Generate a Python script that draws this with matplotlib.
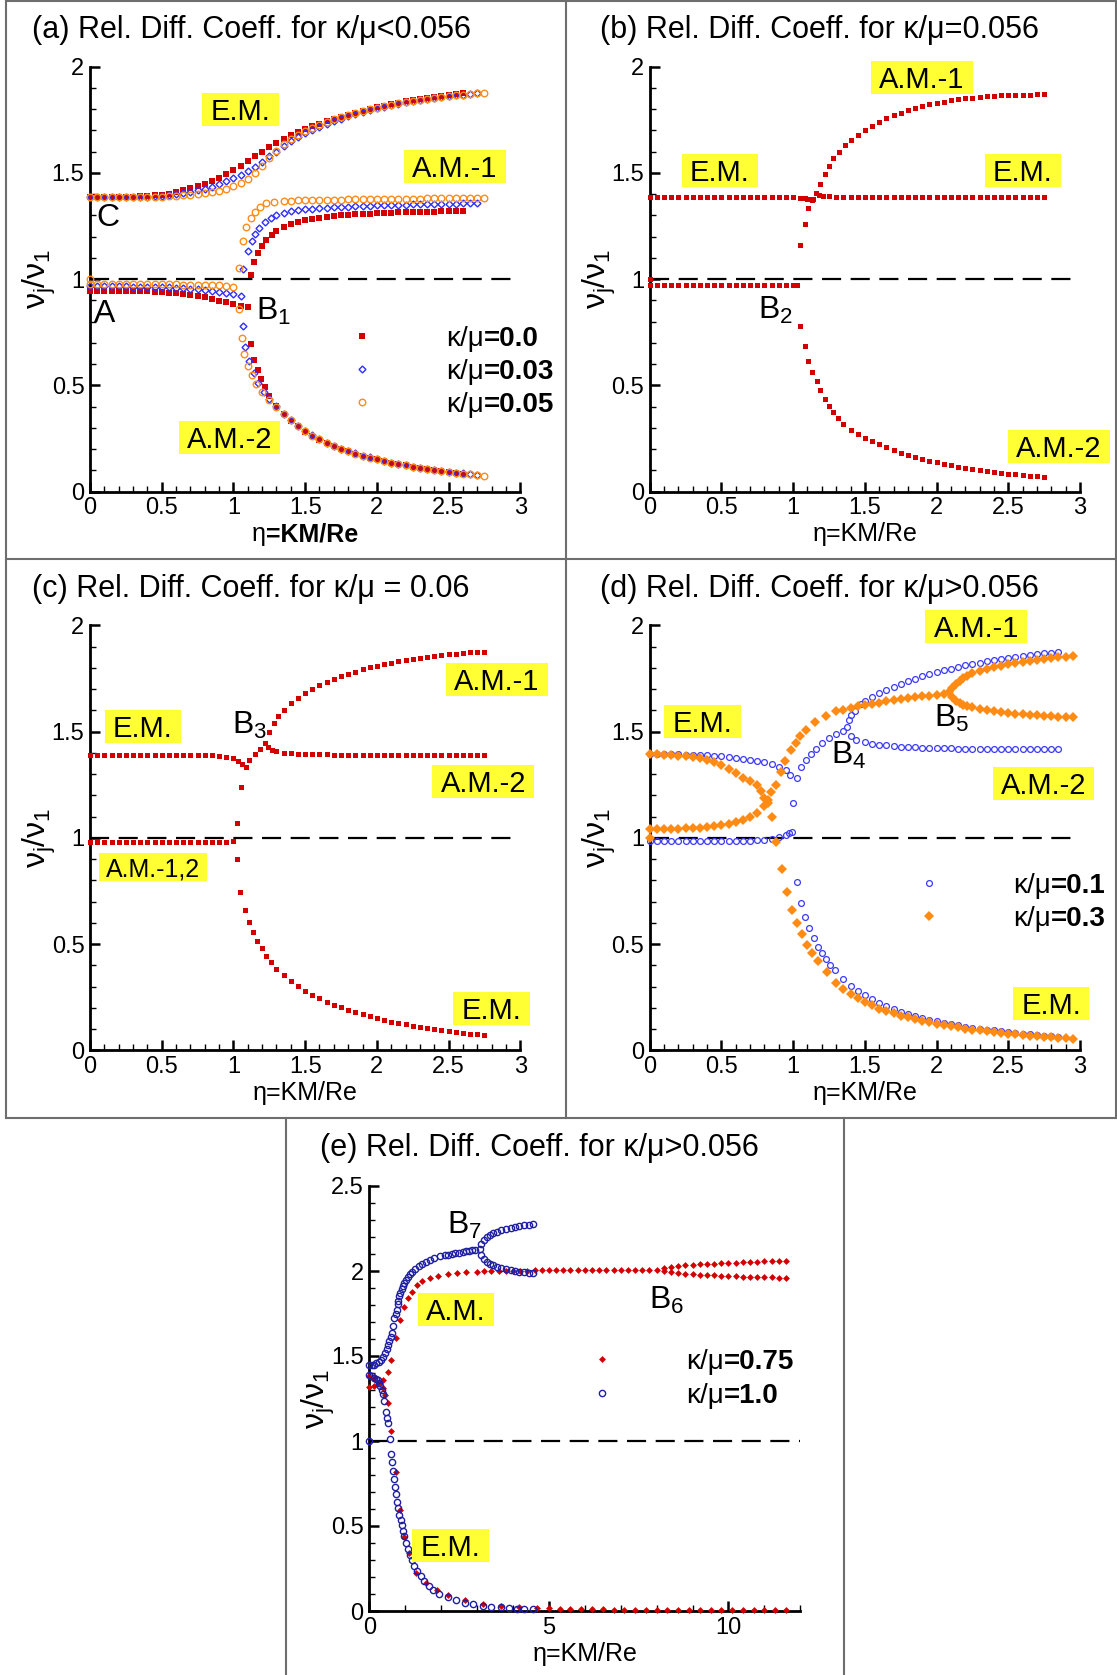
import matplotlib
matplotlib.use("Agg")
import matplotlib.pyplot as plt
from matplotlib.lines import Line2D
from matplotlib.path import Path
from matplotlib.ticker import MultipleLocator, FuncFormatter
from matplotlib.offsetbox import TextArea, HPacker, DrawingArea, AnnotationBbox

plt.rcParams["font.family"] = ["Liberation Sans", "DejaVu Sans"]
plt.rcParams["mathtext.fontset"] = "custom"
plt.rcParams["mathtext.rm"] = "Liberation Sans"
plt.rcParams["mathtext.it"] = "Liberation Sans"
plt.rcParams["mathtext.bf"] = "Liberation Sans:bold"

# ---------------------------------------------------------------------------
# eta = KM/Re sweep used for panels (a)-(d)
GRID = [0.00, 0.05, 0.10, 0.15, 0.20, 0.25, 0.30, 0.35, 0.40, 0.45,
        0.50, 0.55, 0.60, 0.65, 0.70, 0.75, 0.80, 0.85, 0.90, 0.95,
        1.00, 1.05, 1.10, 1.15, 1.20, 1.25, 1.30, 1.35, 1.40, 1.45,
        1.50, 1.55, 1.60, 1.65, 1.70, 1.75, 1.80, 1.85, 1.90, 1.95,
        2.00, 2.05, 2.10, 2.15, 2.20, 2.25, 2.30, 2.35, 2.40, 2.45,
        2.50, 2.55, 2.60, 2.65, 2.70, 2.75, 2.80, 2.85, 2.90, 2.95, 3.00]

REF_LEVEL = 1.0

# ---------------- (a) kappa/mu = 0.0, 0.03, 0.05 ----------------
A_RED_EM_X = GRID[:53]
A_RED_EM_Y = [1.385, 1.385, 1.385, 1.386, 1.386, 1.387, 1.388, 1.390, 1.392, 1.395,
              1.398, 1.403, 1.410, 1.418, 1.427, 1.438, 1.450, 1.463, 1.477, 1.495,
              1.514, 1.534, 1.556, 1.578, 1.600, 1.622, 1.642, 1.660, 1.677, 1.692,
              1.706, 1.719, 1.731, 1.743, 1.754, 1.765, 1.775, 1.784, 1.793, 1.801,
              1.809, 1.817, 1.824, 1.830, 1.837, 1.843, 1.848, 1.853, 1.858, 1.863,
              1.867, 1.871, 1.875]
A_BLUE_EM_X = GRID[:55]
A_BLUE_EM_Y = [1.385, 1.385, 1.385, 1.385, 1.386, 1.386, 1.387, 1.388, 1.389, 1.391,
               1.393, 1.396, 1.400, 1.405, 1.411, 1.418, 1.426, 1.436, 1.447, 1.460,
               1.475, 1.490, 1.508, 1.528, 1.553, 1.578, 1.600, 1.625, 1.648, 1.668,
               1.686, 1.702, 1.717, 1.731, 1.744, 1.756, 1.767, 1.777, 1.787, 1.796,
               1.804, 1.812, 1.819, 1.826, 1.832, 1.838, 1.843, 1.848, 1.853, 1.857,
               1.861, 1.865, 1.868, 1.871, 1.874]
A_ORNG_EM_X = GRID[:56]
A_ORNG_EM_Y = [1.385, 1.385, 1.385, 1.385, 1.385, 1.385, 1.386, 1.386, 1.387, 1.388,
               1.389, 1.391, 1.393, 1.395, 1.398, 1.401, 1.405, 1.410, 1.417, 1.426,
               1.437, 1.452, 1.472, 1.500, 1.535, 1.570, 1.605, 1.635, 1.660, 1.680,
               1.698, 1.713, 1.727, 1.740, 1.752, 1.763, 1.773, 1.782, 1.791, 1.799,
               1.807, 1.814, 1.821, 1.827, 1.833, 1.839, 1.844, 1.849, 1.854, 1.858,
               1.862, 1.866, 1.869, 1.872, 1.875, 1.878]

A_RED_AM1_X = [1.12, 1.14, 1.17, 1.20, 1.23, 1.27, 1.30] + GRID[27:53]
A_RED_AM1_Y = [1.022, 1.081, 1.123, 1.155, 1.185, 1.207, 1.226,
               1.247, 1.261, 1.271, 1.279, 1.285, 1.290, 1.294, 1.297, 1.300, 1.303,
               1.305, 1.307, 1.309, 1.311, 1.312, 1.313, 1.314, 1.315, 1.316, 1.317,
               1.318, 1.318, 1.319, 1.320, 1.320, 1.321]
A_BLUE_AM1_X = [1.07, 1.10, 1.13, 1.15, 1.18, 1.22, 1.26, 1.30, 1.35] + GRID[28:55]
A_BLUE_AM1_Y = [1.047, 1.131, 1.182, 1.212, 1.242, 1.270, 1.289, 1.302, 1.312, 1.319,
                1.324, 1.328, 1.331, 1.334, 1.336, 1.338, 1.340, 1.342, 1.343, 1.345,
                1.346, 1.347, 1.348, 1.349, 1.350, 1.351, 1.352, 1.353, 1.353, 1.354,
                1.355, 1.355, 1.356, 1.357, 1.357, 1.358]
A_ORNG_AM1_X = [1.04, 1.065, 1.09, 1.12, 1.15, 1.185, 1.23, 1.28, 1.35] + GRID[28:56]
A_ORNG_AM1_Y = [1.052, 1.181, 1.244, 1.286, 1.318, 1.341, 1.357, 1.364, 1.368,
                1.370, 1.371, 1.372, 1.373, 1.374, 1.374, 1.375, 1.375, 1.376, 1.376,
                1.377, 1.377, 1.377, 1.378, 1.378, 1.378, 1.379, 1.379, 1.379, 1.380,
                1.380, 1.380, 1.380, 1.381, 1.381, 1.381, 1.381, 1.381]

A_RED_LOW_X = GRID[:23]
A_RED_LOW_Y = [0.946, 0.946, 0.946, 0.946, 0.946, 0.945, 0.945, 0.944, 0.943, 0.942,
               0.940, 0.937, 0.934, 0.930, 0.925, 0.920, 0.914, 0.907, 0.899, 0.892,
               0.884, 0.876, 0.867]
A_BLUE_LOW_X = GRID[:22]
A_BLUE_LOW_Y = [0.966, 0.966, 0.966, 0.966, 0.966, 0.966, 0.965, 0.965, 0.964, 0.963,
                0.962, 0.961, 0.959, 0.957, 0.955, 0.952, 0.949, 0.945, 0.941, 0.935,
                0.928, 0.921]
A_ORNG_LOW_X = [0.0] + GRID[:21]
A_ORNG_LOW_Y = [1.000,
                0.976, 0.976, 0.976, 0.976, 0.976, 0.976, 0.976, 0.976, 0.976, 0.976,
                0.976, 0.976, 0.976, 0.975, 0.975, 0.975, 0.974, 0.973, 0.971, 0.968,
                0.962]

A_RED_AM2_X = [1.12, 1.14, 1.17, 1.19, 1.22, 1.25, 1.30] + GRID[27:53]
A_RED_AM2_Y = [0.697, 0.622, 0.571, 0.529, 0.492, 0.452, 0.405,
               0.367, 0.335, 0.307, 0.283, 0.263, 0.245, 0.229, 0.215, 0.202, 0.190,
               0.179, 0.169, 0.160, 0.152, 0.144, 0.137, 0.130, 0.124, 0.118, 0.112,
               0.107, 0.102, 0.097, 0.093, 0.089, 0.085]
A_BLUE_AM2_X = [1.066, 1.084, 1.11, 1.14, 1.17, 1.21, 1.25, 1.30] + GRID[27:55]
A_BLUE_AM2_Y = [0.778, 0.681, 0.615, 0.560, 0.512, 0.467, 0.437, 0.402,
                0.368, 0.337, 0.310, 0.286, 0.265, 0.247, 0.231, 0.216, 0.203, 0.191,
                0.180, 0.170, 0.161, 0.152, 0.145, 0.137, 0.131, 0.124, 0.118, 0.113,
                0.107, 0.102, 0.098, 0.094, 0.090, 0.086, 0.082, 0.078]
A_ORNG_AM2_X = [1.04, 1.058, 1.076, 1.10, 1.127, 1.16, 1.20, 1.25, 1.30] + GRID[27:56]
A_ORNG_AM2_Y = [0.862, 0.723, 0.647, 0.593, 0.551, 0.509, 0.470, 0.432, 0.398,
                0.366, 0.336, 0.309, 0.285, 0.264, 0.246, 0.230, 0.215, 0.202, 0.190,
                0.179, 0.169, 0.160, 0.152, 0.144, 0.137, 0.130, 0.124, 0.118, 0.112,
                0.107, 0.102, 0.097, 0.093, 0.089, 0.085, 0.081, 0.077, 0.074]

# ---------------- (b) kappa/mu = 0.056 ----------------
B_EM_L_X = GRID[:22] + [1.08, 1.10, 1.12, 1.14]
B_EM_L_Y = [1.388, 1.388, 1.388, 1.388, 1.388, 1.388, 1.388, 1.388, 1.388, 1.388,
            1.388, 1.388, 1.388, 1.388, 1.388, 1.388, 1.388, 1.388, 1.388, 1.387,
            1.386, 1.384, 1.381, 1.378, 1.376, 1.378]
B_EM_R_X = [1.16, 1.18, 1.21, 1.25] + GRID[26:56]
B_EM_R_Y = [1.404, 1.396, 1.392, 1.390,
            1.389, 1.389, 1.389, 1.389, 1.389, 1.389, 1.389, 1.389, 1.389, 1.389,
            1.388, 1.388, 1.388, 1.388, 1.388, 1.388, 1.388, 1.388, 1.388, 1.388,
            1.388, 1.388, 1.388, 1.388, 1.388, 1.388, 1.388, 1.388, 1.388, 1.388]
B_AM1_X = [1.05, 1.08, 1.105, 1.13, 1.19, 1.22, 1.25, 1.28, 1.32, 1.36] + GRID[28:56]
B_AM1_Y = [1.163, 1.260, 1.334, 1.372, 1.450, 1.493, 1.533, 1.570, 1.600, 1.630,
           1.655, 1.680, 1.703, 1.723, 1.741, 1.757, 1.771, 1.784, 1.796, 1.806,
           1.815, 1.823, 1.830, 1.836, 1.842, 1.847, 1.851, 1.855, 1.858, 1.861,
           1.863, 1.865, 1.866, 1.867, 1.868, 1.869, 1.870, 1.871]
B_LOW_X = [0.0] + GRID[:21] + [1.03]
B_LOW_Y = [1.000,
           0.973, 0.973, 0.973, 0.973, 0.973, 0.973, 0.973, 0.973, 0.973, 0.973,
           0.973, 0.973, 0.973, 0.973, 0.973, 0.973, 0.973, 0.973, 0.973, 0.973,
           0.973, 0.973]
B_AM2_X = [1.05, 1.08, 1.105, 1.135, 1.165, 1.19, 1.22, 1.25, 1.28, 1.31, 1.35] + GRID[28:56]
B_AM2_Y = [0.782, 0.685, 0.617, 0.564, 0.520, 0.478, 0.438, 0.405, 0.375, 0.348, 0.318,
           0.292, 0.272, 0.255, 0.238, 0.223, 0.209, 0.196, 0.184, 0.173, 0.163,
           0.154, 0.146, 0.138, 0.131, 0.124, 0.118, 0.112, 0.107, 0.102, 0.097,
           0.093, 0.089, 0.085, 0.081, 0.078, 0.075, 0.072, 0.069]

# ---------------- (c) kappa/mu = 0.06 ----------------
C_EM_L_X = GRID[:21] + [1.03, 1.06, 1.085]
C_EM_L_Y = [1.390, 1.390, 1.390, 1.390, 1.390, 1.390, 1.390, 1.390, 1.390, 1.390,
            1.390, 1.390, 1.390, 1.390, 1.390, 1.390, 1.390, 1.388, 1.385, 1.382,
            1.377, 1.362, 1.348, 1.336]
C_UP_X = [1.025, 1.053, 1.11, 1.15, 1.185, 1.22]
C_UP_Y = [1.069, 1.239, 1.366, 1.395, 1.420, 1.446]
C_AM1_X = [1.25, 1.28, 1.31, 1.35] + GRID[28:56]
C_AM1_Y = [1.497, 1.539, 1.573, 1.603,
           1.637, 1.660, 1.682, 1.700, 1.718, 1.734, 1.748, 1.760, 1.772, 1.783,
           1.793, 1.802, 1.810, 1.818, 1.825, 1.831, 1.837, 1.842, 1.847, 1.852,
           1.856, 1.860, 1.864, 1.867, 1.870, 1.873, 1.875, 1.877]
C_AM2_X = [1.24, 1.27, 1.30, 1.35] + GRID[28:56]
C_AM2_Y = [1.430, 1.415, 1.407, 1.401,
           1.398, 1.396, 1.395, 1.394, 1.393, 1.393, 1.392, 1.392, 1.392, 1.391,
           1.391, 1.391, 1.391, 1.391, 1.390, 1.390, 1.390, 1.390, 1.390, 1.390,
           1.390, 1.390, 1.390, 1.390, 1.390, 1.390, 1.390, 1.390]
C_LOW_X = GRID[:21]
C_LOW_Y = [0.980, 0.980, 0.980, 0.980, 0.980, 0.980, 0.980, 0.980, 0.980, 0.980,
           0.980, 0.980, 0.980, 0.980, 0.980, 0.980, 0.980, 0.980, 0.981, 0.982,
           0.985]
C_FALL_X = [1.025, 1.046, 1.078, 1.109, 1.139, 1.167, 1.197, 1.23, 1.26, 1.30, 1.35] + GRID[28:56]
C_FALL_Y = [0.903, 0.746, 0.661, 0.603, 0.556, 0.517, 0.480, 0.446, 0.414, 0.384, 0.353,
            0.326, 0.302, 0.281, 0.262, 0.245, 0.229, 0.215, 0.202, 0.190, 0.179,
            0.169, 0.160, 0.151, 0.143, 0.136, 0.129, 0.122, 0.116, 0.110, 0.105,
            0.100, 0.095, 0.091, 0.087, 0.083, 0.079, 0.076, 0.072]

# ---------------- (d) kappa/mu = 0.1 and 0.3 ----------------
D_B_EM_X = GRID[:20] + [0.975]
D_B_EM_Y = [1.395, 1.395, 1.394, 1.394, 1.393, 1.392, 1.391, 1.390, 1.388, 1.387,
            1.385, 1.381, 1.378, 1.373, 1.368, 1.363, 1.357, 1.349, 1.336, 1.319,
            1.298]
D_B_RISE_X = [0.999, 1.024, 1.056, 1.088, 1.122, 1.159, 1.203, 1.252, 1.301, 1.35, 1.375]
D_B_RISE_Y = [1.166, 1.281, 1.332, 1.366, 1.395, 1.420, 1.446, 1.471, 1.488, 1.505, 1.522]
D_B_AM1_X = [1.392, 1.405, 1.429, 1.473, 1.50, 1.55] + GRID[32:58]
D_B_AM1_Y = [1.556, 1.576, 1.598, 1.632, 1.645, 1.662,
             1.680, 1.695, 1.710, 1.724, 1.737, 1.749, 1.760, 1.770, 1.780, 1.789,
             1.797, 1.805, 1.812, 1.819, 1.825, 1.831, 1.837, 1.842, 1.847, 1.852,
             1.857, 1.861, 1.865, 1.869, 1.872, 1.875]
D_B_AM2_X = [1.40, 1.436, 1.50, 1.55] + GRID[32:58]
D_B_AM2_Y = [1.480, 1.463, 1.451, 1.444,
             1.439, 1.435, 1.432, 1.430, 1.428, 1.426, 1.425, 1.424, 1.423, 1.422,
             1.421, 1.420, 1.420, 1.419, 1.419, 1.418, 1.418, 1.418, 1.417, 1.417,
             1.417, 1.417, 1.417, 1.417, 1.417, 1.417]
D_B_LOW_X = GRID[:20] + [0.97, 0.994]
D_B_LOW_Y = [0.985, 0.985, 0.985, 0.985, 0.985, 0.985, 0.985, 0.985, 0.985, 0.985,
             0.985, 0.985, 0.985, 0.985, 0.986, 0.988, 0.991, 0.995, 1.003, 1.013,
             1.025, 1.027]
D_B_FALL_X = [1.024, 1.056, 1.085, 1.112, 1.142, 1.171, 1.198, 1.228, 1.257, 1.289,
              1.35, 1.40, 1.45, 1.50, 1.55] + GRID[32:58]
D_B_FALL_Y = [0.793, 0.695, 0.627, 0.576, 0.531, 0.488, 0.458, 0.429, 0.403, 0.378,
              0.336, 0.305, 0.280, 0.259, 0.240,
              0.223, 0.208, 0.195, 0.183, 0.172, 0.162, 0.153, 0.145, 0.137, 0.130,
              0.124, 0.118, 0.112, 0.107, 0.102, 0.098, 0.094, 0.090, 0.086, 0.082,
              0.079, 0.076, 0.073, 0.070, 0.067, 0.064]

D_O_EM_X = GRID[:16] + [0.773, 0.80, 0.822, 0.854, 0.884, 0.923, 0.958, 0.994, 1.026, 1.061,
                        1.097, 1.134, 1.174, 1.233, 1.301, 1.35, 1.40, 1.45, 1.50, 1.55] + GRID[32:60]
D_O_EM_Y = [1.395, 1.394, 1.392, 1.390, 1.387, 1.384, 1.380, 1.375, 1.368, 1.357,
            1.343, 1.326, 1.306, 1.284, 1.266, 1.250,
            1.222, 1.190, 1.166, 1.098, 0.980, 0.853, 0.747, 0.663, 0.598, 0.547,
            0.497, 0.458, 0.420, 0.369, 0.319, 0.290, 0.266, 0.245, 0.228, 0.212,
            0.197, 0.185, 0.174, 0.164, 0.155, 0.147, 0.139, 0.132, 0.125, 0.119,
            0.113, 0.108, 0.103, 0.098, 0.094, 0.090, 0.086, 0.083, 0.079, 0.076,
            0.073, 0.070, 0.067, 0.064, 0.062, 0.059, 0.057, 0.055]
D_O_AM_X = GRID[:16] + [0.798, 0.822, 0.847, 0.884, 0.913, 0.945, 0.982, 1.019, 1.051, 1.093,
                        1.154, 1.228, 1.30, 1.35, 1.40, 1.45, 1.50, 1.55] + GRID[32:42] + [2.087]
D_O_AM_Y = [1.042, 1.042, 1.043, 1.043, 1.044, 1.045, 1.046, 1.048, 1.050, 1.054,
            1.059, 1.065, 1.073, 1.085, 1.098, 1.115,
            1.149, 1.180, 1.217, 1.251, 1.310, 1.361, 1.412, 1.446, 1.480, 1.510,
            1.547, 1.573, 1.596, 1.604, 1.612, 1.619, 1.625, 1.631,
            1.637, 1.642, 1.647, 1.652, 1.657, 1.661, 1.666, 1.670, 1.674, 1.679,
            1.686]
D_O_SPLIT_X = [2.11, 2.136, 2.16, 2.185, 2.21, 2.25] + GRID[46:60]
D_O_UP_Y = [1.705, 1.722, 1.738, 1.751, 1.762, 1.775,
            1.787, 1.796, 1.804, 1.810, 1.816, 1.822, 1.827, 1.832, 1.837, 1.841,
            1.845, 1.849, 1.853, 1.856]
D_O_DN_Y = [1.665, 1.644, 1.634, 1.627, 1.622, 1.614,
            1.607, 1.601, 1.596, 1.592, 1.588, 1.584, 1.581, 1.578, 1.576, 1.574,
            1.572, 1.570, 1.569, 1.568]
D_O_ORIGIN_X = [0.0]
D_O_ORIGIN_Y = [1.0]

# ---------------- (e) kappa/mu = 0.75 and 1.0 ----------------
E_R_UP_X = [0.0, 0.13, 0.26, 0.38, 0.51, 0.61, 0.73, 0.86, 0.97, 1.08,
            1.18, 1.33, 1.48, 1.68, 1.9, 2.18, 2.45, 2.7, 3.0,
            3.2, 3.4, 3.6, 3.8, 4.0, 4.2, 4.4, 4.6, 4.8, 5.0, 5.2, 5.4, 5.6,
            5.8, 6.0, 6.2, 6.4, 6.6, 6.8, 7.0, 7.2, 7.4, 7.6, 7.8, 8.0]
E_R_UP_Y = [1.319, 1.326, 1.340, 1.357, 1.403, 1.477, 1.603, 1.714, 1.790, 1.840,
            1.876, 1.918, 1.939, 1.960, 1.972, 1.981, 1.987, 1.992, 1.996,
            1.998, 1.999, 2.000, 2.001, 2.001, 2.002, 2.002, 2.003, 2.003, 2.004,
            2.004, 2.004, 2.005, 2.005, 2.005, 2.006, 2.006, 2.006, 2.007, 2.007,
            2.007, 2.007, 2.008, 2.008, 2.008]
E_R_SPLIT_X = [8.2, 8.4, 8.6, 8.8, 9.0, 9.2, 9.4, 9.6, 9.8, 10.0,
               10.2, 10.4, 10.6, 10.8, 11.0, 11.2, 11.4, 11.6]
E_R_SPLIT_UP_Y = [2.018, 2.024, 2.029, 2.033, 2.036, 2.039, 2.042, 2.044, 2.046, 2.048,
                  2.050, 2.052, 2.054, 2.055, 2.057, 2.058, 2.060, 2.061]
E_R_SPLIT_DN_Y = [1.998, 1.992, 1.988, 1.984, 1.981, 1.978, 1.976, 1.974, 1.972, 1.970,
                  1.968, 1.967, 1.966, 1.964, 1.963, 1.962, 1.961, 1.960]
E_R_DN_X = [0.0, 0.13, 0.26, 0.38, 0.45, 0.51, 0.61, 0.73, 0.86, 0.98,
            1.10, 1.31, 1.58, 1.88, 2.18, 2.67, 3.17, 3.67, 4.17, 4.67,
            5.0, 5.3, 5.6, 5.9, 6.2, 6.5, 6.8, 7.1, 7.4, 7.7, 8.0, 8.3, 8.6,
            8.9, 9.2, 9.5, 9.8, 10.1, 10.4, 10.7, 11.0, 11.3, 11.6]
E_R_DN_Y = [1.385, 1.370, 1.350, 1.310, 1.270, 1.225, 1.061, 0.819, 0.595, 0.437,
            0.342, 0.223, 0.164, 0.122, 0.097, 0.065, 0.044, 0.032, 0.024, 0.017,
            0.015, 0.013, 0.012, 0.011, 0.010, 0.009, 0.008, 0.008, 0.007, 0.007,
            0.006, 0.006, 0.005, 0.005, 0.005, 0.004, 0.004, 0.004, 0.004, 0.003,
            0.003, 0.003, 0.003]

E_B_UP_X = [0.0, 0.07, 0.13, 0.2, 0.26, 0.32, 0.38, 0.43, 0.48, 0.52,
            0.56, 0.6, 0.63, 0.66, 0.7, 0.73, 0.76, 0.79, 0.81, 0.84,
            0.86, 0.9, 0.93, 0.97, 1.01, 1.07, 1.13, 1.2, 1.28, 1.38,
            1.48, 1.58, 1.68, 1.8, 1.98, 2.1, 2.2, 2.3, 2.38, 2.5,
            2.6, 2.7, 2.77, 2.85, 2.95, 3.07]
E_B_UP_Y = [1.445, 1.447, 1.450, 1.457, 1.466, 1.478, 1.492, 1.515, 1.540, 1.563,
            1.588, 1.612, 1.634, 1.676, 1.723, 1.748, 1.771, 1.803, 1.824, 1.852,
            1.870, 1.895, 1.912, 1.930, 1.945, 1.964, 1.981, 1.997, 2.013, 2.030,
            2.044, 2.055, 2.065, 2.075, 2.086, 2.092, 2.097, 2.101, 2.103, 2.108,
            2.112, 2.115, 2.118, 2.121, 2.124, 2.128]
E_B_SPLIT_X = [3.12, 3.2, 3.27, 3.35, 3.45, 3.55, 3.67, 3.8, 3.95, 4.05, 4.17, 4.3, 4.45, 4.57]
E_B_SPLIT_UP_Y = [2.160, 2.183, 2.202, 2.214, 2.224, 2.232, 2.239, 2.247, 2.254, 2.259,
                  2.265, 2.269, 2.273, 2.275]
E_B_SPLIT_DN_Y = [2.092, 2.072, 2.055, 2.043, 2.033, 2.024, 2.017, 2.010, 2.004, 2.000,
                  1.996, 1.993, 1.990, 1.987]
E_B_DN_X = [0.0, 0.07, 0.13, 0.18, 0.23, 0.27, 0.30, 0.34, 0.38, 0.42,
            0.46, 0.50, 0.53, 0.57, 0.60, 0.63, 0.66, 0.69, 0.71, 0.74,
            0.76, 0.80, 0.84, 0.87, 0.90, 0.94, 0.98, 1.03, 1.08, 1.13,
            1.18, 1.25, 1.33, 1.43, 1.53, 1.65, 1.78, 1.95, 2.18, 2.4,
            2.67, 2.9, 3.17, 3.4, 3.67, 3.9, 4.1, 4.3, 4.57]
E_B_DN_Y = [1.389, 1.381, 1.372, 1.365, 1.357, 1.342, 1.324, 1.302, 1.277, 1.235,
            1.172, 1.135, 1.105, 1.010, 0.924, 0.875, 0.826, 0.778, 0.731, 0.686,
            0.643, 0.605, 0.567, 0.535, 0.504, 0.472, 0.441, 0.400, 0.363, 0.330,
            0.300, 0.267, 0.237, 0.204, 0.174, 0.147, 0.122, 0.100, 0.080, 0.064,
            0.048, 0.039, 0.032, 0.026, 0.021, 0.017, 0.014, 0.012, 0.011]
E_B_ORIGIN_X = [0.0]
E_B_ORIGIN_Y = [1.0]

# ---------------------------------------------------------------------------
RED = "#D40000"
YELLOW = "#FFFF33"
RED_SQ = dict(marker="s", ms=4.0, mfc=RED, mec=RED, mew=0.0)
RED_SQ_S = dict(marker="s", ms=3.6, mfc=RED, mec=RED, mew=0.0)
BLUE_DIA = dict(marker="D", ms=3.5, mfc="none", mec="#2F2FFF", mew=1.0)
ORNG_CIR = dict(marker="o", ms=4.7, mfc="none", mec="#FF8C1A", mew=1.0)
D_BLUE_CIR = dict(marker="o", ms=4.2, mfc="none", mec="#3B3BF5", mew=0.9)
D_ORNG_DIA = dict(marker="D", ms=4.8, mfc="#FF8A14", mec="#FF8A14", mew=0.0)
E_RED_DIA = dict(marker="D", ms=3.5, mfc=RED, mec=RED, mew=0.0)
E_NAVY_CIR = dict(marker="o", ms=4.5, mfc="none", mec="#1F1FA3", mew=1.0)

W, H = 1117, 1675
fig = plt.figure(figsize=(W / 100, H / 100), dpi=100)
fig.patch.set_facecolor("white")


def make_axes(left, top, right, bottom):
    return fig.add_axes([left / W, 1 - bottom / H, (right - left) / W, (bottom - top) / H])


def style_axes(ax, xmax, xmajor, xminor, ymax):
    ax.set_xlim(0, xmax)
    ax.set_ylim(0, ymax)
    ax.patch.set_alpha(0)
    for s in ("top", "right"):
        ax.spines[s].set_visible(False)
    for s in ("left", "bottom"):
        ax.spines[s].set_linewidth(2.0)
    ax.xaxis.set_major_locator(MultipleLocator(xmajor))
    ax.xaxis.set_minor_locator(MultipleLocator(xminor))
    ax.yaxis.set_major_locator(MultipleLocator(0.5))
    ax.yaxis.set_minor_locator(MultipleLocator(0.1))
    fmt = FuncFormatter(lambda v, p: "%g" % v)
    ax.xaxis.set_major_formatter(fmt)
    ax.yaxis.set_major_formatter(fmt)
    ax.tick_params(which="major", direction="in", length=7.5, width=1.8,
                   labelsize=17, pad=4.0, top=False, right=False)
    ax.tick_params(which="minor", direction="in", length=4.0, width=1.0,
                   top=False, right=False)
    ax.set_ylabel(r"$\nu_j/\nu_1$", fontsize=23)
    ax.yaxis.set_label_coords(-0.118, 0.5)
    ax.yaxis.label.set_va("center")


def ref_line(ax, xmax_frac):
    ax.axhline(REF_LEVEL, xmin=0, xmax=xmax_frac, color="black", lw=1.6,
               dashes=(8.6, 4.3), zorder=1)


def branch(ax, xs, ys, style):
    if len(xs) != len(ys):
        raise ValueError("length mismatch: %d vs %d" % (len(xs), len(ys)))
    ax.plot(xs, ys, ls="none", clip_on=False, zorder=3, **style)


def yellow_box(x0, y0, width, height, mutation_size):
    padx = 0.28 * mutation_size
    bot = y0 - 0.0 * mutation_size
    top = y0 + height + 0.17 * mutation_size
    left = x0 - padx
    right = x0 + width + padx
    return Path([(left, bot), (right, bot), (right, top), (left, top), (left, bot)],
                closed=True)


def tag(ax, s, x, y, fs=21):
    ax.text(x, y, s, fontsize=fs, ha="center", va="center", zorder=5,
            bbox=dict(boxstyle=yellow_box, fc=YELLOW, ec="none"))


def letter(ax, s, x, y, ha="left", fs=23):
    ax.text(x, y, s, fontsize=fs, ha=ha, va="baseline", zorder=5)


def key(ax, entries, fx, fy, pitch_px, gap_px=85, fs=20):
    for i, (val, style) in enumerate(entries):
        da = DrawingArea(8, 14.4, 0, 0)
        da.add_artist(Line2D([4], [7.2], ls="none", **style))
        txt = HPacker(children=[TextArea("κ/μ", textprops=dict(fontsize=fs)),
                                TextArea("=" + val, textprops=dict(fontsize=fs, fontweight="bold"))],
                      align="baseline", pad=0, sep=0)
        row = HPacker(children=[da, txt], align="baseline", pad=0, sep=(gap_px - 5.6) * 0.72)
        ab = AnnotationBbox(row, (fx, fy), xycoords="axes fraction",
                            xybox=(-4, 2 - i * pitch_px * 0.72), boxcoords="offset points",
                            box_alignment=(0, 0.5), frameon=False, pad=0)
        ax.add_artist(ab)


def plain_xlabel(ax):
    ax.set_xlabel("η=KM/Re", fontsize=18)
    ax.xaxis.set_label_coords(0.5, -0.10)
    ax.xaxis.label.set_va("center")


def title(x, y, s):
    fig.text(x / W, 1 - y / H, s, fontsize=22, ha="left", va="center")


# ---------------- panel (a)
ax = make_axes(90, 66.7, 520.3, 491.7)
style_axes(ax, 3, 0.5, 0.1, 2)
ref_line(ax, 0.99)
for xs, ys in ((A_RED_EM_X, A_RED_EM_Y), (A_RED_AM1_X, A_RED_AM1_Y),
               (A_RED_LOW_X, A_RED_LOW_Y), (A_RED_AM2_X, A_RED_AM2_Y)):
    branch(ax, xs, ys, RED_SQ)
for xs, ys in ((A_BLUE_EM_X, A_BLUE_EM_Y), (A_BLUE_AM1_X, A_BLUE_AM1_Y),
               (A_BLUE_LOW_X, A_BLUE_LOW_Y), (A_BLUE_AM2_X, A_BLUE_AM2_Y)):
    branch(ax, xs, ys, BLUE_DIA)
for xs, ys in ((A_ORNG_EM_X, A_ORNG_EM_Y), (A_ORNG_AM1_X, A_ORNG_AM1_Y),
               (A_ORNG_LOW_X, A_ORNG_LOW_Y), (A_ORNG_AM2_X, A_ORNG_AM2_Y)):
    branch(ax, xs, ys, ORNG_CIR)
tag(ax, "E.M.", 1.049, 1.785)
tag(ax, "A.M.-1", 2.543, 1.518)
tag(ax, "A.M.-2", 0.972, 0.242)
letter(ax, "C", 0.122, 1.252, ha="center")
letter(ax, "A", 0.104, 0.798, ha="center")
letter(ax, "B$_1$", 1.16, 0.81)
key(ax, [("0.0", RED_SQ), ("0.03", BLUE_DIA), ("0.05", ORNG_CIR)], 0.631, 0.353, 33)
xl = HPacker(children=[TextArea("η", textprops=dict(fontsize=18)),
                       TextArea("=KM/Re", textprops=dict(fontsize=18, fontweight="bold"))],
             align="baseline", pad=0, sep=0)
ax.add_artist(AnnotationBbox(xl, (0.5, -0.10), xycoords="axes fraction",
                             box_alignment=(0.5, 0.5), frameon=False, pad=0))
title(32, 30, "(a) Rel. Diff. Coeff. for κ/μ<0.056")

# ---------------- panel (b)
ax = make_axes(649.7, 66.7, 1080, 491.7)
style_axes(ax, 3, 0.5, 0.1, 2)
ref_line(ax, 0.99)
for xs, ys in ((B_EM_L_X, B_EM_L_Y), (B_EM_R_X, B_EM_R_Y), (B_AM1_X, B_AM1_Y),
               (B_LOW_X, B_LOW_Y), (B_AM2_X, B_AM2_Y)):
    branch(ax, xs, ys, RED_SQ_S)
tag(ax, "A.M.-1", 1.897, 1.936)
tag(ax, "E.M.", 0.489, 1.501)
tag(ax, "E.M.", 2.60, 1.501)
tag(ax, "A.M.-2", 2.852, 0.20)
letter(ax, "B$_2$", 0.755, 0.812)
plain_xlabel(ax)
title(600, 30, "(b) Rel. Diff. Coeff. for κ/μ=0.056")

# ---------------- panel (c)
ax = make_axes(90, 625.4, 520.3, 1050.4)
style_axes(ax, 3, 0.5, 0.1, 2)
ref_line(ax, 0.99)
for xs, ys in ((C_EM_L_X, C_EM_L_Y), (C_UP_X, C_UP_Y), (C_AM1_X, C_AM1_Y),
               (C_AM2_X, C_AM2_Y), (C_LOW_X, C_LOW_Y), (C_FALL_X, C_FALL_Y)):
    branch(ax, xs, ys, RED_SQ_S)
tag(ax, "E.M.", 0.368, 1.512)
tag(ax, "A.M.-1", 2.837, 1.734)
tag(ax, "A.M.-2", 2.742, 1.255)
tag(ax, "A.M.-1,2", 0.44, 0.852, fs=18)
tag(ax, "E.M.", 2.799, 0.186)
letter(ax, "B$_3$", 0.99, 1.489)
plain_xlabel(ax)
title(32, 589, "(c) Rel. Diff. Coeff. for κ/μ = 0.06")

# ---------------- panel (d)
ax = make_axes(649.7, 625.4, 1080, 1050.4)
style_axes(ax, 3, 0.5, 0.1, 2)
ref_line(ax, 0.99)
for xs, ys in ((D_B_EM_X, D_B_EM_Y), (D_B_RISE_X, D_B_RISE_Y), (D_B_AM1_X, D_B_AM1_Y),
               (D_B_AM2_X, D_B_AM2_Y), (D_B_LOW_X, D_B_LOW_Y), (D_B_FALL_X, D_B_FALL_Y)):
    branch(ax, xs, ys, D_BLUE_CIR)
for xs, ys in ((D_O_EM_X, D_O_EM_Y), (D_O_AM_X, D_O_AM_Y), (D_O_SPLIT_X, D_O_UP_Y),
               (D_O_SPLIT_X, D_O_DN_Y), (D_O_ORIGIN_X, D_O_ORIGIN_Y)):
    branch(ax, xs, ys, D_ORNG_DIA)
tag(ax, "A.M.-1", 2.277, 1.981)
tag(ax, "E.M.", 0.368, 1.535)
tag(ax, "A.M.-2", 2.745, 1.245)
tag(ax, "E.M.", 2.799, 0.208)
letter(ax, "B$_5$", 1.985, 1.522)
letter(ax, "B$_4$", 1.266, 1.348)
key(ax, [("0.1", D_BLUE_CIR), ("0.3", D_ORNG_DIA)], 0.648, 0.380, 33)
plain_xlabel(ax)
title(600, 589, "(d) Rel. Diff. Coeff. for κ/μ>0.056")

# ---------------- panel (e)
ax = make_axes(369.3, 1186, 800.3, 1611)
style_axes(ax, 12, 5, 1, 2.5)
ref_line(ax, 1.0)
for xs, ys in ((E_R_UP_X, E_R_UP_Y), (E_R_SPLIT_X, E_R_SPLIT_UP_Y),
               (E_R_SPLIT_X, E_R_SPLIT_DN_Y), (E_R_DN_X, E_R_DN_Y)):
    branch(ax, xs, ys, E_RED_DIA)
for xs, ys in ((E_B_UP_X, E_B_UP_Y), (E_B_SPLIT_X, E_B_SPLIT_UP_Y),
               (E_B_SPLIT_X, E_B_SPLIT_DN_Y), (E_B_DN_X, E_B_DN_Y),
               (E_B_ORIGIN_X, E_B_ORIGIN_Y)):
    branch(ax, xs, ys, E_NAVY_CIR)
tag(ax, "A.M.", 2.41, 1.761)
tag(ax, "E.M.", 2.26, 0.372)
letter(ax, "B$_7$", 2.17, 2.216)
letter(ax, "B$_6$", 7.8, 1.775)
key(ax, [("0.75", E_RED_DIA), ("1.0", E_NAVY_CIR)], 0.539, 0.58, 34)
plain_xlabel(ax)
title(320, 1148, "(e) Rel. Diff. Coeff. for κ/μ>0.056")

# ---------------- panel frames
FRAME = "#6E6E6E"


def frame_line(x0, y0, x1, y1):
    fig.add_artist(Line2D([x0 / W, x1 / W], [1 - y0 / H, 1 - y1 / H],
                          transform=fig.transFigure, color=FRAME, lw=1.5))


frame_line(5.5, 0.8, 1116, 0.8)
frame_line(5.5, 558.7, 1116, 558.7)
frame_line(5.5, 1118, 1116, 1118)
frame_line(5.5, 0.8, 5.5, 1118)
frame_line(565.7, 0.8, 565.7, 1118)
frame_line(1116, 0.8, 1116, 1118)
frame_line(286, 1118, 286, 1675)
frame_line(844.3, 1118, 844.3, 1675)

fig.savefig("out.png", dpi=100)
